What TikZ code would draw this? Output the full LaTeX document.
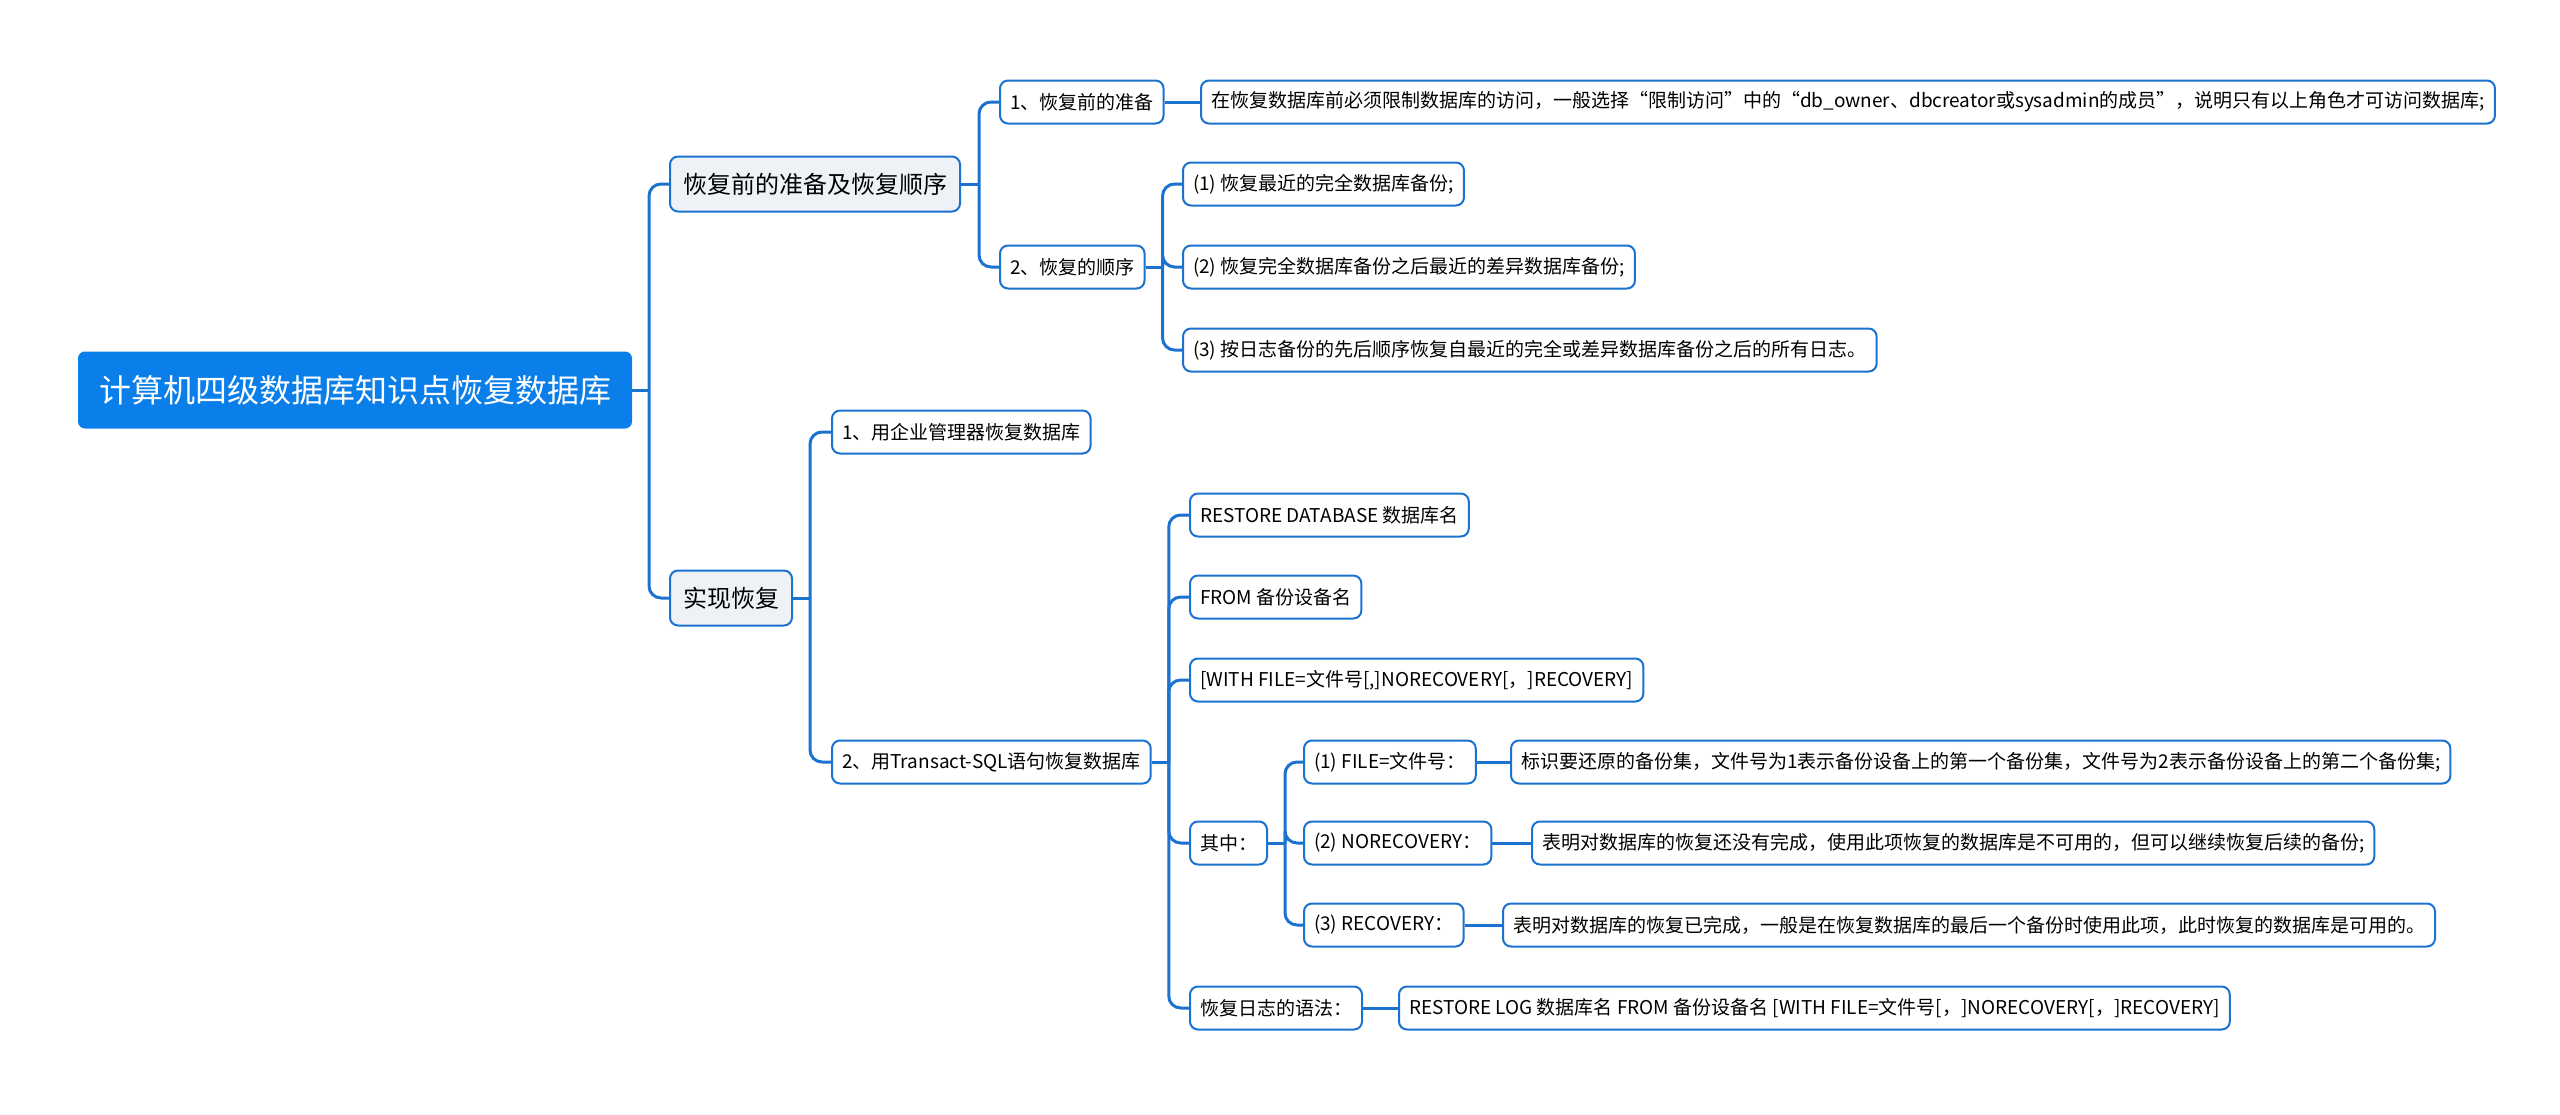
\documentclass[tikz,border=0pt]{standalone}
\usepackage{fontspec}
\setmainfont{Noto Sans CJK SC}
\definecolor{rootblue}{HTML}{0A7FE9}
\definecolor{linkblue}{HTML}{1B72CF}
\definecolor{topicfill}{HTML}{EEF2F6}
\tikzset{
  box/.style={draw=linkblue, line width=1pt, rounded corners=4pt, fill=white,
    font=\fontsize{9.5}{11}\selectfont, inner xsep=5pt, minimum height=21.5pt, anchor=west},
  topic/.style={box, fill=topicfill, font=\fontsize{12}{14}\selectfont,
    inner xsep=6.5pt, minimum height=27.5pt},
  rootbox/.style={box, fill=rootblue, draw=rootblue, text=white, rounded corners=3pt,
    font=\fontsize{16}{19}\selectfont, inner xsep=10pt, minimum height=37.5pt},
  link/.style={draw=linkblue, line width=1.5pt},
  elbow/.style={link, rounded corners=6pt},
}

\begin{document}
\begin{tikzpicture}[x=0.5pt, y=-0.5pt]
    \useasboundingbox (0,0) rectangle (2560,1114);

    % Root and main topics
    \node[rootbox] (root) at (78,390) {计算机四级数据库知识点恢复数据库};
    \node[topic] (prep) at (669,184) {恢复前的准备及恢复顺序};
    \node[topic] (impl) at (669,598) {实现恢复};

    % Preparation and order
    \node[box] (prepa) at (999,102) {1、恢复前的准备};
    \node[box] (prepb) at (999,267) {2、恢复的顺序};
    \node[box] (prepatxt) at (1200,102) {在恢复数据库前必须限制数据库的访问，一般选择“限制访问”中的“db\_owner、dbcreator或sysadmin的成员”，说明只有以上角色才可访问数据库;};
    \node[box] (orda) at (1182,184) {(1) 恢复最近的完全数据库备份;};
    \node[box] (ordb) at (1182,267) {(2) 恢复完全数据库备份之后最近的差异数据库备份;};
    \node[box] (ordc) at (1182,350) {(3) 按日志备份的先后顺序恢复自最近的完全或差异数据库备份之后的所有日志。};

    % Ways to restore
    \node[box] (em) at (831,432) {1、用企业管理器恢复数据库};
    \node[box] (tsql) at (831,762) {2、用Transact-SQL语句恢复数据库};
    \node[box] (sqla) at (1189,515) {RESTORE DATABASE 数据库名};
    \node[box] (sqlb) at (1189,597) {FROM 备份设备名};
    \node[box] (sqlc) at (1189,680) {[WITH FILE=文件号[,]NORECOVERY[，]RECOVERY]};
    \node[box] (note) at (1189,843) {其中：};
    \node[box] (logsyn) at (1189,1008) {恢复日志的语法：};

    % Options
    \node[box] (filea) at (1303,762) {(1) FILE=文件号：};
    \node[box] (fileb) at (1303,843) {(2) NORECOVERY：};
    \node[box] (filec) at (1303,925) {(3) RECOVERY：};
    \node[box] (fileatxt) at (1510,762) {标识要还原的备份集，文件号为1表示备份设备上的第一个备份集，文件号为2表示备份设备上的第二个备份集;};
    \node[box] (filebtxt) at (1531,843) {表明对数据库的恢复还没有完成，使用此项恢复的数据库是不可用的，但可以继续恢复后续的备份;};
    \node[box] (filectxt) at (1502,925) {表明对数据库的恢复已完成，一般是在恢复数据库的最后一个备份时使用此项，此时恢复的数据库是可用的。};
    \node[box] (logtxt) at (1398,1008) {RESTORE LOG 数据库名 FROM 备份设备名 [WITH FILE=文件号[，]NORECOVERY[，]RECOVERY]};

    % Branches
    \draw[link] (root.east) -- ++(17,0) coordinate (rootj);
    \foreach \c in {prep,impl} \draw[elbow] (rootj) |- (\c.west);
    \draw[link] (prep.east) -- ++(18,0) coordinate (prepj);
    \foreach \c in {prepa,prepb} \draw[elbow] (prepj) |- (\c.west);
    \draw[link] (prepa.east) -- (prepatxt.west);
    \draw[link] (prepb.east) -- ++(17,0) coordinate (prepbj);
    \foreach \c in {orda,ordb,ordc} \draw[elbow] (prepbj) |- (\c.west);
    \draw[link] (impl.east) -- ++(17,0) coordinate (implj);
    \foreach \c in {em,tsql} \draw[elbow] (implj) |- (\c.west);
    \draw[link] (tsql.east) -- ++(17,0) coordinate (tsqlj);
    \foreach \c in {sqla,sqlb,sqlc,note,logsyn} \draw[elbow] (tsqlj) |- (\c.west);
    \draw[link] (note.east) -- ++(17,0) coordinate (notej);
    \foreach \c in {filea,fileb,filec} \draw[elbow] (notej) |- (\c.west);
    \draw[link] (filea.east) -- (fileatxt.west);
    \draw[link] (fileb.east) -- (filebtxt.west);
    \draw[link] (filec.east) -- (filectxt.west);
    \draw[link] (logsyn.east) -- (logtxt.west);
\end{tikzpicture}
\end{document}
